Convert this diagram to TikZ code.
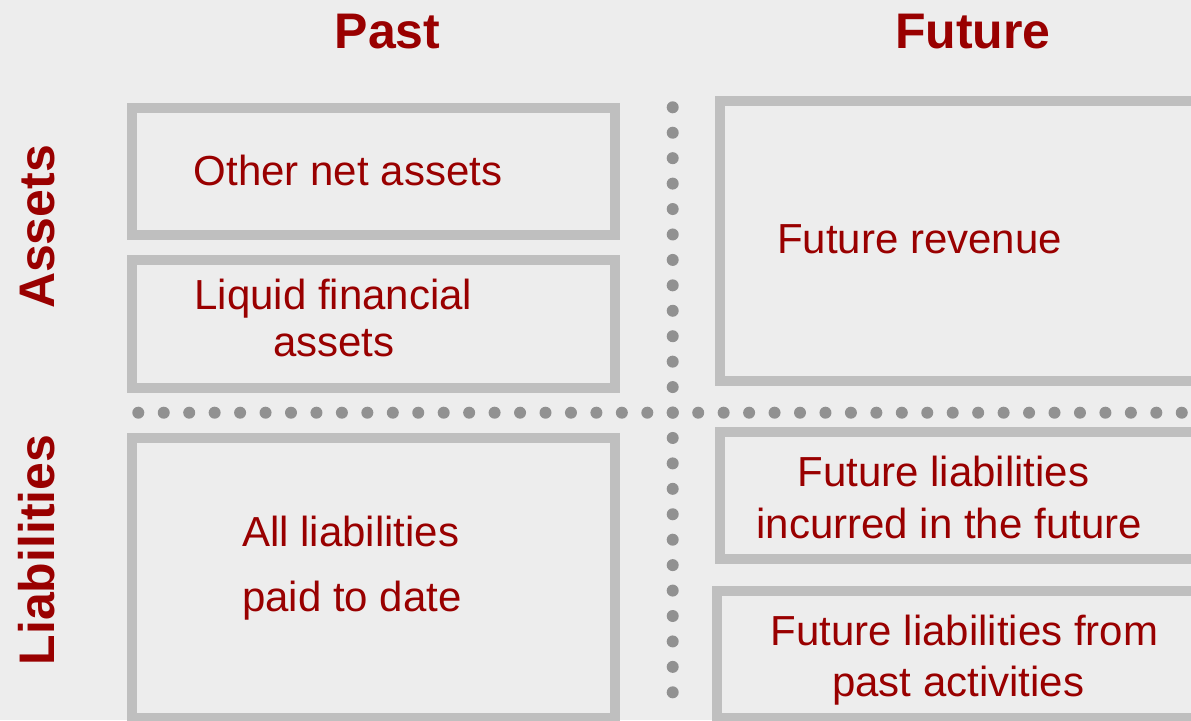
\documentclass[tikz,border=0pt]{standalone}
\usepackage{fontspec}
\setmainfont{Liberation Sans}
\definecolor{txtred}{RGB}{153,0,0}
\definecolor{boxgray}{RGB}{191,191,191}
\definecolor{dotgray}{RGB}{145,145,145}
\definecolor{bggray}{RGB}{237,237,237}
\begin{document}
\begin{tikzpicture}[x=1pt,y=-1pt,
  panel/.style={draw=boxgray, line width=10pt, inner sep=0pt, outer sep=0pt, rectangle},
  body/.style={text=txtred, font=\fontsize{42}{48}\selectfont, anchor=base, inner sep=0pt},
  head/.style={text=txtred, font=\fontsize{50}{58}\selectfont\bfseries, anchor=base, inner sep=0pt},
  dotmark/.style={fill=dotgray}]
\useasboundingbox (0,0) rectangle (1191,720);
\fill[bggray] (0,0) rectangle (1191,720);
\clip (0,0) rectangle (1191,720);

% panels
\node[panel, minimum width=483.3pt, minimum height=126.7pt] (b1) at (373.3,171.7) {};
\node[panel, minimum width=483.3pt, minimum height=127.5pt] (b2) at (373.3,323.8) {};
\node[panel, minimum width=530pt, minimum height=280.5pt] (b3) at (985,240.8) {};
\node[panel, minimum width=483.3pt, minimum height=280pt] (b4) at (373.3,578) {};
\node[panel, minimum width=530pt, minimum height=127.5pt] (b5) at (985,495.3) {};
\node[panel, minimum width=533pt, minimum height=127pt] (b6) at (983.5,654.5) {};

% dotted separators
\foreach \i in {0,...,23} \fill[dotmark] (672.7,{107.3+\i*25.435}) circle (6pt);
\foreach \i in {0,...,41} \fill[dotmark] ({138.3+\i*25.45},412.7) circle (6pt);

% headings
\node[head] (past) at (387.5,48.3) {Past};
\node[head] (future) at (973,48.3) {Future};
\node[head, rotate=90] (assets) at (54,227) {Assets};
\node[head, rotate=90] (liab) at (54,550) {Liabilities};

% texts
\node[body] (t1) at (348,185.7) {Other net assets};
\node[body] (t2a) at (333.4,309.3) {Liquid financial};
\node[body] (t2b) at (333.8,356.7) {assets};
\node[body] (t3) at (919.5,253.3) {Future revenue};
\node[body] (t4a) at (350.8,546.7) {All liabilities};
\node[body] (t4b) at (352,611.7) {paid to date};
\node[body] (t5a) at (943.3,486.7) {Future liabilities};
\node[body] (t5b) at (949.2,538.3) {incurred in the future};
\node[body] (t6a) at (964.5,645) {Future liabilities from};
\node[body] (t6b) at (958.3,696.7) {past activities};
\end{tikzpicture}
\end{document}
